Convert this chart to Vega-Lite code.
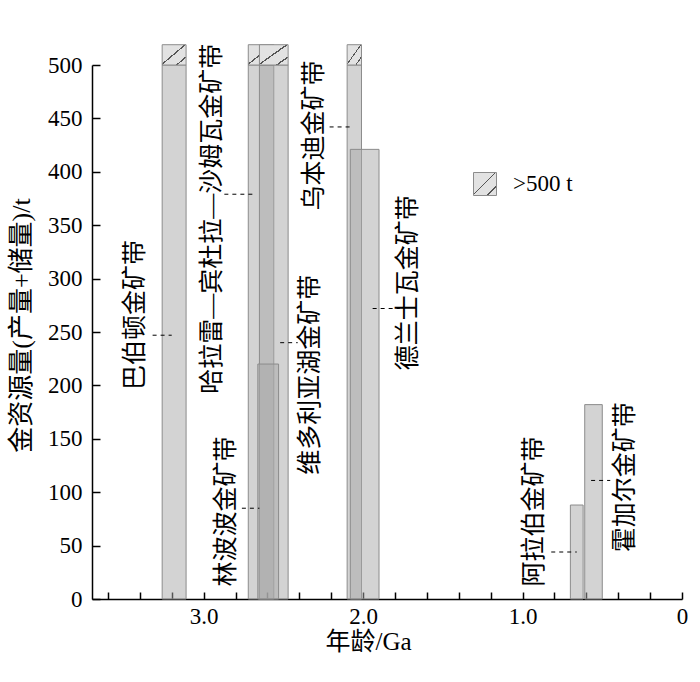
{
  "$schema": "https://vega.github.io/schema/vega-lite/v6.json",
  "autosize": {"type": "none"},
  "padding": {"left": 92, "top": 65, "right": 18, "bottom": 83},
  "width": 590,
  "height": 534,
  "background": "white",
  "config": {
    "view": {"stroke": null},
    "font": "Liberation Serif, Noto Sans CJK SC",
    "axis": {"grid": false, "domainColor": "black", "tickColor": "black", "labelColor": "black", "titleColor": "black", "domainWidth": 1.5, "tickWidth": 1.5}
  },
  "datasets": {
    "belts": [
      {"belt": "巴伯顿金矿带", "from": 3.26, "to": 3.11, "gold": 500, "over500": true, "labelAge": 3.43, "labelLevel": 266, "leadFrom": 3.32, "leadTo": 3.2, "leadLevel": 247},
      {"belt": "哈拉雷—宾杜拉—沙姆瓦金矿带", "from": 2.72, "to": 2.56, "gold": 500, "over500": true, "labelAge": 2.947, "labelLevel": 356, "leadFrom": 2.87, "leadTo": 2.69, "leadLevel": 379},
      {"belt": "维多利亚湖金矿带", "from": 2.65, "to": 2.47, "gold": 500, "over500": true, "labelAge": 2.33, "labelLevel": 210, "leadFrom": 2.52, "leadTo": 2.41, "leadLevel": 240},
      {"belt": "林波波金矿带", "from": 2.66, "to": 2.53, "gold": 220, "over500": false, "labelAge": 2.86, "labelLevel": 82, "leadFrom": 2.76, "leadTo": 2.65, "leadLevel": 85},
      {"belt": "乌本迪金矿带", "from": 2.1, "to": 2.01, "gold": 500, "over500": true, "labelAge": 2.31, "labelLevel": 434, "leadFrom": 2.21, "leadTo": 2.06, "leadLevel": 442},
      {"belt": "德兰士瓦金矿带", "from": 2.08, "to": 1.9, "gold": 421, "over500": false, "labelAge": 1.72, "labelLevel": 296, "leadFrom": 1.94, "leadTo": 1.77, "leadLevel": 272},
      {"belt": "阿拉伯金矿带", "from": 0.7, "to": 0.62, "gold": 88, "over500": false, "labelAge": 0.93, "labelLevel": 82, "leadFrom": 0.82, "leadTo": 0.66, "leadLevel": 44},
      {"belt": "霍加尔金矿带", "from": 0.61, "to": 0.5, "gold": 182, "over500": false, "labelAge": 0.36, "labelLevel": 114, "leadFrom": 0.57, "leadTo": 0.45, "leadLevel": 111}
    ]
  },
  "data": {"name": "belts"},
  "layer": [
    {
      "mark": {"type": "rect", "fill": "#a8a8a8", "fillOpacity": 0.5, "stroke": "#8c8c8c", "strokeWidth": 1},
      "encoding": {
        "x": {"field": "from", "type": "quantitative",
          "scale": {"domain": [0, 3.7], "reverse": true, "nice": false, "zero": false},
          "axis": {
            "values": [3.6, 3.4, 3.2, 3.0, 2.8, 2.6, 2.4, 2.2, 2.0, 1.8, 1.6, 1.4, 1.2, 1.0, 0.8, 0.6, 0.4, 0.2, 0],
            "tickCount": 40,
            "labelExpr": "datum.value == 0 ? '0' : (abs(datum.value - round(datum.value)) < 0.001 ? format(datum.value, '.1f') : '')",
            "labelFlush": false, "labelOverlap": false,
            "tickSize": -7, "labelPadding": 13,
            "labelFont": "Liberation Serif", "labelFontSize": 23,
            "title": "年龄/Ga", "titleFont": "Liberation Serif, Noto Sans CJK SC", "titleFontSize": 25, "titleFontWeight": "normal",
            "titleX": 276, "titleY": 42, "titleBaseline": "middle", "titleAlign": "center"
          }},
        "x2": {"field": "to"},
        "y": {"field": "gold", "type": "quantitative",
          "scale": {"domain": [0, 500], "nice": false},
          "axis": {
            "values": [0, 50, 100, 150, 200, 250, 300, 350, 400, 450, 500],
            "tickCount": 40,
            "tickSize": -8, "labelPadding": 18,
            "labelFont": "Liberation Serif", "labelFontSize": 23,
            "title": "金资源量(产量+储量)/t", "titleFont": "Liberation Serif, Noto Sans CJK SC", "titleFontSize": 26, "titleFontWeight": "normal",
            "titleX": -71, "titleBaseline": "middle", "titleAlign": "center", "titleY": 260
          }},
        "y2": {"datum": 0}
      }
    },
    {
      "transform": [{"filter": "datum.over500"}],
      "mark": {"type": "rect", "strokeWidth": 1, "fill": {"gradient": "linear", "x1": 0, "y1": 0, "x2": 1, "y2": 1, "stops": [
            {"offset": 0, "color": "#e2e2e2"}, {"offset": 0.46, "color": "#e2e2e2"},
            {"offset": 0.46, "color": "#555555"}, {"offset": 0.5, "color": "#555555"},
            {"offset": 0.5, "color": "#e2e2e2"}, {"offset": 0.78, "color": "#e2e2e2"},
            {"offset": 0.78, "color": "#555555"}, {"offset": 0.82, "color": "#555555"},
            {"offset": 0.82, "color": "#e2e2e2"}, {"offset": 1, "color": "#e2e2e2"}]}},
      "encoding": {
        "x": {"field": "from", "type": "quantitative"},
        "x2": {"field": "to"},
        "y": {"datum": 500, "type": "quantitative"},
        "y2": {"datum": 519},
        "stroke": {"datum": ">500 t", "type": "nominal",
          "scale": {"range": ["#8c8c8c"]},
          "legend": {"orient": "none", "legendX": 381, "legendY": 107, "title": null, "padding": 0,
            "symbolType": "square", "symbolSize": 529, "symbolStrokeWidth": 1,
            "labelFont": "Liberation Serif", "labelFontSize": 23, "labelColor": "black", "labelOffset": 16,
            "encode": {"symbols": {"update": {"fill": {"value": {"gradient": "linear", "x1": 0, "y1": 0, "x2": 1, "y2": 1, "stops": [
            {"offset": 0, "color": "#e2e2e2"}, {"offset": 0.46, "color": "#e2e2e2"},
            {"offset": 0.46, "color": "#555555"}, {"offset": 0.5, "color": "#555555"},
            {"offset": 0.5, "color": "#e2e2e2"}, {"offset": 0.78, "color": "#e2e2e2"},
            {"offset": 0.78, "color": "#555555"}, {"offset": 0.82, "color": "#555555"},
            {"offset": 0.82, "color": "#e2e2e2"}, {"offset": 1, "color": "#e2e2e2"}]}}, "fillOpacity": {"value": 1}}}}}}
      }
    },
    {
      "mark": {"type": "rule", "color": "black", "strokeWidth": 1, "strokeDash": [4, 4]},
      "encoding": {
        "x": {"field": "leadFrom", "type": "quantitative"},
        "x2": {"field": "leadTo"},
        "y": {"field": "leadLevel", "type": "quantitative"}
      }
    },
    {
      "mark": {"type": "text", "angle": 270, "align": "center", "baseline": "middle", "fontSize": 25, "font": "Liberation Serif, Noto Sans CJK SC", "color": "black"},
      "encoding": {
        "x": {"field": "labelAge", "type": "quantitative"},
        "y": {"field": "labelLevel", "type": "quantitative"},
        "text": {"field": "belt"}
      }
    }
  ]
}
